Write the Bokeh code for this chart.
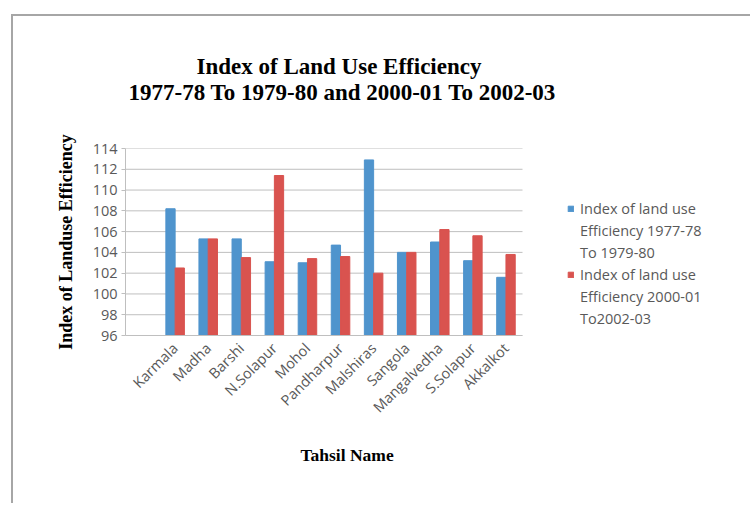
import math
from bokeh.plotting import figure
from bokeh.models import (ColumnDataSource, FixedTicker, Range1d, Legend, LegendItem, Title)
from bokeh.transform import dodge
from bokeh.embed import file_html
from bokeh.resources import INLINE

tahsils = ["Karmala", "Madha", "Barshi", "N.Solapur", "Mohol", "Pandharpur",
           "Malshiras", "Sangola", "Mangalvedha", "S.Solapur", "Akkalkot"]
eff_1977_80 = [108.2, 105.3, 105.3, 103.1, 103.0, 104.7, 112.9, 104.0, 105.0, 103.2, 101.6]
eff_2000_03 = [102.5, 105.3, 103.5, 111.4, 103.4, 103.6, 102.0, 104.0, 106.2, 105.6, 103.8]
y_ticks = [96, 98, 100, 102, 104, 106, 108, 110, 112, 114]
legend_lines_1 = ["Index of land use", "Efficiency 1977-78", "To 1979-80"]
legend_lines_2 = ["Index of land use", "Efficiency 2000-01", "To2002-03"]
title_line_1 = "Index of Land Use Efficiency"
title_line_2 = "1977-78 To 1979-80 and 2000-01 To 2002-03"
x_title = "Tahsil Name"
y_title = "Index of Landuse Efficiency"

BLUE = "#4F94CD"
RED = "#D9534F"
GRAY_TXT = "#595959"
GRID = "#BFBFBF"

n = len(tahsils)
pos = list(range(1, n + 1))
x_lo, x_hi = -0.5, n + 0.5          # category area (one empty slot before the first)
slots = n + 1
cat_px = 397.0                      # pixel width of the category area
frame_px = 610.0                    # frame extends right to hold the legend
x_view_hi = x_lo + slots * frame_px / cat_px

src = ColumnDataSource(dict(x=pos, a=eff_1977_80, b=eff_2000_03))
grid_src = ColumnDataSource(dict(y=y_ticks, x0=[x_lo] * len(y_ticks), x1=[x_hi] * len(y_ticks)))

p = figure(width=739, height=489, output_backend="svg", toolbar_location=None,
           x_range=Range1d(x_lo, x_view_hi),
           y_range=Range1d(y_ticks[0], y_ticks[-1]),
           min_border_left=112, min_border_right=17,
           min_border_top=132, min_border_bottom=170)
p.styles = {"margin-left": "11px", "margin-top": "14px",
            "border-left": "2px solid #A6A6A6", "border-top": "2px solid #A6A6A6"}
p.outline_line_color = None
p.background_fill_color = "white"
p.border_fill_color = "white"
p.xgrid.visible = False
p.ygrid.visible = False

# horizontal gridlines over the category area only
p.segment(x0="x0", x1="x1", y0="y", y1="y", source=grid_src, line_color=GRID, line_width=1)

base = y_ticks[0]
r1 = p.vbar(x=dodge("x", -0.14, range=p.x_range), top="a", bottom=base, width=0.28,
            source=src, fill_color=BLUE, line_color=BLUE)
r2 = p.vbar(x=dodge("x", 0.14, range=p.x_range), top="b", bottom=base, width=0.28,
            source=src, fill_color=RED, line_color=RED)
blank = p.vbar(x=[], top=[], width=0.1, fill_alpha=0, line_alpha=0)

# axes
p.xaxis.bounds = (x_lo, x_hi)
p.xaxis.ticker = FixedTicker(ticks=pos)
p.xaxis.major_label_overrides = {i: t for i, t in zip(pos, tahsils)}
p.xaxis.major_label_orientation = math.pi / 4
p.xaxis.major_tick_line_color = None
p.xaxis.minor_tick_line_color = None
p.xaxis.axis_line_color = GRID
p.xaxis.major_label_text_font = "Open Sans"
p.xaxis.major_label_text_font_size = "14.5px"
p.xaxis.major_label_text_color = GRAY_TXT
p.xaxis.major_label_standoff = 4

p.yaxis.ticker = FixedTicker(ticks=y_ticks)
p.yaxis.axis_line_color = GRID
p.yaxis.major_tick_line_color = GRID
p.yaxis.major_tick_out = 4
p.yaxis.major_tick_in = 0
p.yaxis.minor_tick_line_color = None
p.yaxis.major_label_text_font = "Open Sans"
p.yaxis.major_label_text_font_size = "14.5px"
p.yaxis.major_label_text_color = GRAY_TXT
p.yaxis.major_label_standoff = 4
p.yaxis.axis_label = y_title
p.yaxis.axis_label_text_font = "Liberation Serif"
p.yaxis.axis_label_text_font_style = "bold"
p.yaxis.axis_label_text_font_size = "18px"
p.yaxis.axis_label_text_color = "black"
p.yaxis.axis_label_standoff = 14

# legend (inside the widened frame, right of the bars)
items = []
for lines, r in ((legend_lines_1, r1), (legend_lines_2, r2)):
    items.append(LegendItem(label=lines[0], renderers=[r]))
    for extra in lines[1:]:
        items.append(LegendItem(label=extra, renderers=[blank]))
legend = Legend(items=items, location=(442, 6), border_line_color=None,
                background_fill_alpha=0, label_text_font="Open Sans",
                label_text_font_size="14.5px", label_text_color=GRAY_TXT,
                glyph_width=7, glyph_height=7, label_height=22,
                spacing=0, padding=0, margin=0, label_standoff=6)
p.add_layout(legend, "center")

# chart title (stacked outward from the frame: blank spacer, line 2, line 1)
title_font = dict(text_font="Liberation Serif", text_font_style="bold",
                  text_font_size="23px", text_color="black")
p.add_layout(Title(text=" ", align="left", offset=3, standoff=16.5, **title_font), "above")
p.add_layout(Title(text=title_line_2, align="left", offset=3, standoff=-1, **title_font), "above")
p.add_layout(Title(text=title_line_1, align="left", offset=71, standoff=-1, **title_font), "above")

# x-axis title below the tick labels
p.add_layout(Title(text=x_title, align="left", offset=175, standoff=32,
                   text_font="Liberation Serif", text_font_style="bold",
                   text_font_size="17.5px", text_color="black"), "below")

open("out.html", "w").write(file_html(p, INLINE))
